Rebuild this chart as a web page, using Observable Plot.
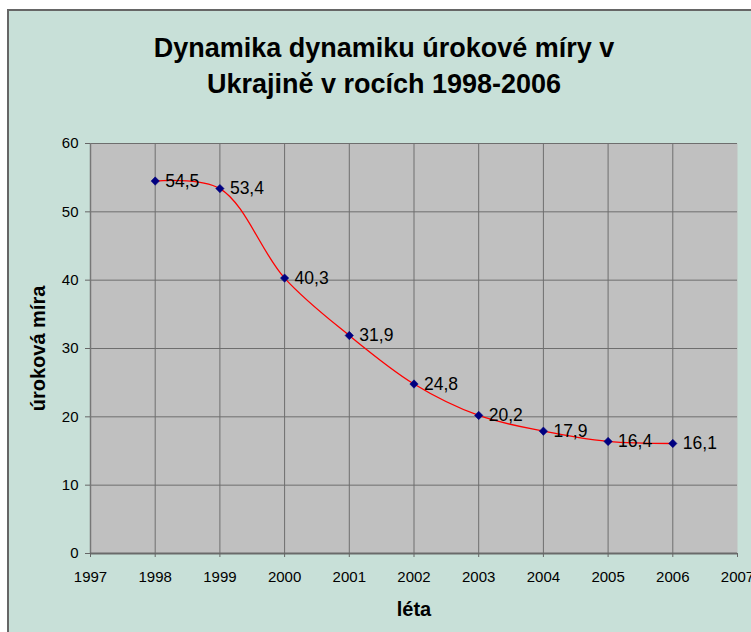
<!DOCTYPE html>
<html><head><meta charset="utf-8">
<script src="https://cdn.jsdelivr.net/npm/d3@7"></script>
<script src="https://cdn.jsdelivr.net/npm/@observablehq/plot@0.6"></script>
<style>
body{margin:0;background:#fff;width:751px;height:632px;overflow:hidden;position:relative;font-family:"Liberation Sans",Arial,sans-serif;}
#box{position:absolute;left:7px;top:9px;width:760px;height:640px;background:#c8e0d8;border-left:2px solid #666;border-top:2px solid #666;}
#chart{position:absolute;left:0;top:0;}
#title{position:absolute;left:0;top:30px;width:768px;text-align:center;font-weight:bold;font-size:27px;line-height:36px;color:#000;}
</style>
</head><body>
<div id="box"></div>
<div id="chart"></div>
<div id="title">Dynamika dynamiku úrokové míry v<br>Ukrajině v rocích 1998-2006</div>
<script>
const years = [1998, 1999, 2000, 2001, 2002, 2003, 2004, 2005, 2006];
const rates = [54.5, 53.4, 40.3, 31.9, 24.8, 20.2, 17.9, 16.4, 16.1];
const xTicks = [1997, 1998, 1999, 2000, 2001, 2002, 2003, 2004, 2005, 2006, 2007];
const yTicks = [0, 10, 20, 30, 40, 50, 60];
const xTitle = "léta";
const yTitle = "úroková míra";

const data = years.map((y, i) => ({year: y, rate: rates[i]}));
const fmt = v => String(v).replace(".", ",");

const chart = Plot.plot({
  width: 751,
  height: 632,
  marginLeft: 90,
  marginRight: 14,
  marginTop: 143,
  marginBottom: 79,
  style: {fontFamily: "Liberation Sans, Arial, sans-serif", background: "transparent", overflow: "visible", color: "#000"},
  x: {domain: [1997, 2007]},
  y: {domain: [0, 60]},
  marks: [
    Plot.frame({fill: "#c0c0c0"}),
    Plot.ruleX(xTicks.slice(1, -1), {stroke: "#6e6e6e", strokeWidth: 1}),
    Plot.ruleY(yTicks.slice(1), {stroke: "#6e6e6e", strokeWidth: 1}),
    Plot.ruleX([xTicks[0]], {stroke: "#777", strokeWidth: 1.5}),
    Plot.ruleY([0], {stroke: "#6a6a6a", strokeWidth: 2}),
    Plot.axisX(xTicks, {tickSize: 4, tickPadding: 14, tickFormat: "d", fontSize: 15, stroke: "#666", fill: "#000", label: null}),
    Plot.axisY(yTicks, {tickSize: 5, tickPadding: 7, tickFormat: "d", fontSize: 15, stroke: "#666", fill: "#000", label: null}),
    Plot.line(data, {x: "year", y: "rate", curve: "catmull-rom", stroke: "#ff0000", strokeWidth: 1.3}),
    Plot.dot(data, {x: "year", y: "rate", symbol: "diamond2", r: 3.8, fill: "#000080", stroke: "#000080", strokeWidth: 0.5}),
    Plot.text(data, {x: "year", y: "rate", text: d => fmt(d.rate), dx: 10, textAnchor: "start", fontSize: 17.5, fill: "#000"}),
    Plot.text([xTitle], {frameAnchor: "bottom", dy: 56, textAnchor: "middle", lineAnchor: "middle", fontWeight: "bold", fontSize: 20, fill: "#000"}),
    Plot.text([yTitle], {frameAnchor: "left", dx: -52, rotate: -90, textAnchor: "middle", lineAnchor: "middle", fontWeight: "bold", fontSize: 20, fill: "#000"})
  ]
});
document.getElementById("chart").appendChild(chart);
</script>
</body></html>
